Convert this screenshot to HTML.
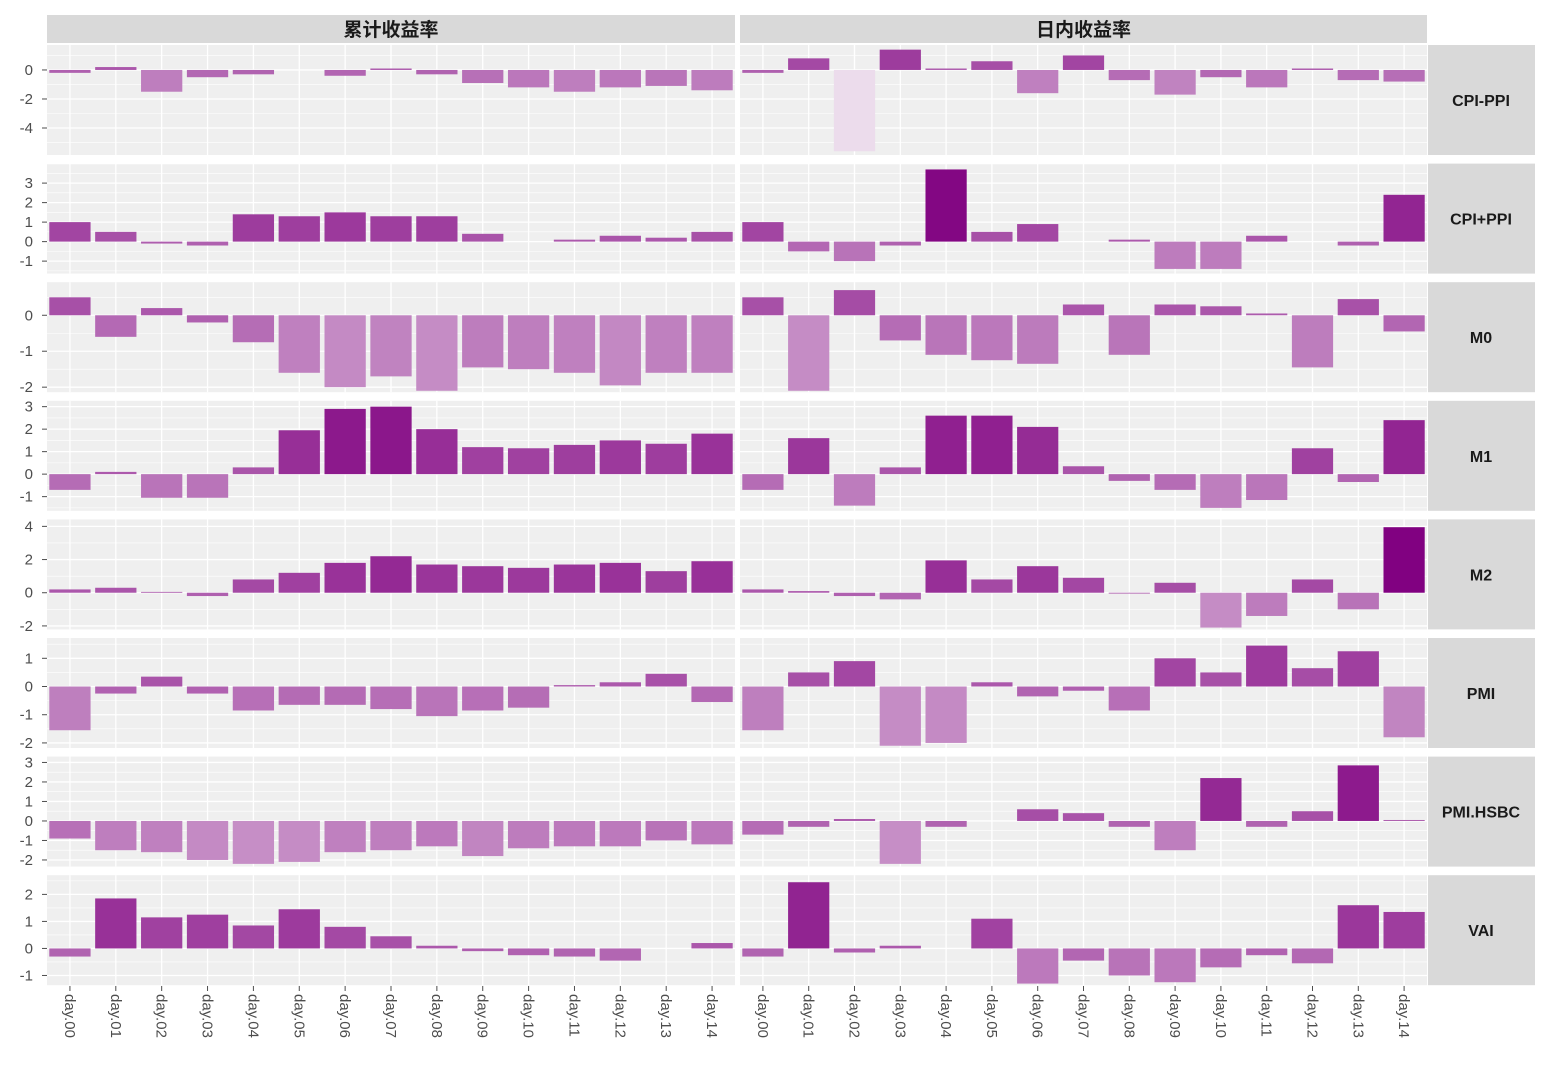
<!DOCTYPE html>
<html><head><meta charset="utf-8"><style>
body{margin:0;background:#fff;font-family:"Liberation Sans","Noto Sans CJK SC",sans-serif;}
svg text{font-family:"Liberation Sans","Noto Sans CJK SC",sans-serif;}
</style></head><body>
<svg id="chart" width="1542" height="1077" xmlns="http://www.w3.org/2000/svg"></svg>
<script>
const categories = ["day.00","day.01","day.02","day.03","day.04","day.05","day.06","day.07","day.08","day.09","day.10","day.11","day.12","day.13","day.14"];
const colFacets = ["累计收益率","日内收益率"];
const rowFacets = ["CPI-PPI","CPI+PPI","M0","M1","M2","PMI","PMI.HSBC","VAI"];
const cumCPIPPI = [-0.2,0.2,-1.5,-0.5,-0.3,0,-0.4,0.1,-0.3,-0.9,-1.2,-1.5,-1.2,-1.1,-1.4];
const dayCPIPPI = [-0.2,0.8,-5.6,1.4,0.1,0.6,-1.6,1.0,-0.7,-1.7,-0.5,-1.2,0.1,-0.7,-0.8];
const cumCPIpPPI = [1.0,0.5,-0.1,-0.2,1.4,1.3,1.5,1.3,1.3,0.4,0,0.1,0.3,0.2,0.5];
const dayCPIpPPI = [1.0,-0.5,-1.0,-0.2,3.7,0.5,0.9,0,0.1,-1.4,-1.4,0.3,0,-0.2,2.4];
const cumM0 = [0.5,-0.6,0.2,-0.2,-0.75,-1.6,-2.0,-1.7,-2.1,-1.45,-1.5,-1.6,-1.95,-1.6,-1.6];
const dayM0 = [0.5,-2.1,0.7,-0.7,-1.1,-1.25,-1.35,0.3,-1.1,0.3,0.25,0.05,-1.45,0.45,-0.45];
const cumM1 = [-0.7,0.1,-1.05,-1.05,0.3,1.95,2.9,3.0,2.0,1.2,1.15,1.3,1.5,1.35,1.8];
const dayM1 = [-0.7,1.6,-1.4,0.3,2.6,2.6,2.1,0.35,-0.3,-0.7,-1.5,-1.15,1.15,-0.35,2.4];
const cumM2 = [0.2,0.3,0.05,-0.2,0.8,1.2,1.8,2.2,1.7,1.6,1.5,1.7,1.8,1.3,1.9];
const dayM2 = [0.2,0.1,-0.2,-0.4,1.95,0.8,1.6,0.9,-0.05,0.6,-2.1,-1.4,0.8,-1.0,3.95];
const cumPMI = [-1.55,-0.25,0.35,-0.25,-0.85,-0.65,-0.65,-0.8,-1.05,-0.85,-0.75,0.05,0.15,0.45,-0.55];
const dayPMI = [-1.55,0.5,0.9,-2.1,-2.0,0.15,-0.35,-0.15,-0.85,1.0,0.5,1.45,0.65,1.25,-1.8];
const cumHSBC = [-0.9,-1.5,-1.6,-2.0,-2.2,-2.1,-1.6,-1.5,-1.3,-1.8,-1.4,-1.3,-1.3,-1.0,-1.2];
const dayHSBC = [-0.7,-0.3,0.1,-2.2,-0.3,0,0.6,0.4,-0.3,-1.5,2.2,-0.3,0.5,2.85,0.05];
const cumVAI = [-0.3,1.85,1.15,1.25,0.85,1.45,0.8,0.45,0.1,-0.1,-0.25,-0.3,-0.45,0,0.2];
const dayVAI = [-0.3,2.45,-0.15,0.1,0,1.1,-1.3,-0.45,-1.0,-1.25,-0.7,-0.25,-0.55,1.6,1.35];
const ticksCPIPPI = [0,-2,-4];
const ticksCPIpPPI = [3,2,1,0,-1];
const ticksM0 = [0,-1,-2];
const ticksM1 = [3,2,1,0,-1];
const ticksM2 = [4,2,0,-2];
const ticksPMI = [1,0,-1,-2];
const ticksHSBC = [3,2,1,0,-1,-2];
const ticksVAI = [2,1,0,-1];
const domCPIPPI = [-5.86,1.72];
const domCPIpPPI = [-1.64,4.0];
const domM0 = [-2.14,0.92];
const domM1 = [-1.63,3.26];
const domM2 = [-2.21,4.42];
const domPMI = [-2.18,1.72];
const domHSBC = [-2.34,3.3];
const domVAI = [-1.36,2.71];

const rows = [
 [cumCPIPPI,dayCPIPPI,ticksCPIPPI,domCPIPPI],
 [cumCPIpPPI,dayCPIpPPI,ticksCPIpPPI,domCPIpPPI],
 [cumM0,dayM0,ticksM0,domM0],
 [cumM1,dayM1,ticksM1,domM1],
 [cumM2,dayM2,ticksM2,domM2],
 [cumPMI,dayPMI,ticksPMI,domPMI],
 [cumHSBC,dayHSBC,ticksHSBC,domHSBC],
 [cumVAI,dayVAI,ticksVAI,domVAI]];

const svg = document.getElementById('chart');
const NS = 'http://www.w3.org/2000/svg';
function mk(tag, attrs, parent){const e=document.createElementNS(NS,tag);for(const k in attrs)e.setAttribute(k,attrs[k]);(parent||svg).appendChild(e);return e;}
const colX = [47,740], colW = [688,687];
const rowY0 = 45, rowStep = 118.6, rowH = 110;
const vMin = -5.6, vMax = 4.0;
function color(v){let t=(v-vMin)/(vMax-vMin);t=Math.max(0,Math.min(1,t));
 const a=[236,220,236],b=[128,0,128];
 return 'rgb('+a.map((c,i)=>Math.round(c+(b[i]-c)*t)).join(',')+')';}

colFacets.forEach((name,c)=>{
 const r=mk('rect',{x:colX[c],y:15,width:colW[c],height:28,fill:'#d9d9d9'});
 
 
 const t=mk('text',{x:colX[c]+colW[c]/2,y:36,'text-anchor':'middle','font-size':'19','font-weight':'bold',fill:'#1a1a1a'});
 t.textContent=name;
 
 
});

rows.forEach((row,ri)=>{
 const y0=rowY0+ri*rowStep;
 const dom=row[3];
 const ys=v=>y0+rowH*(dom[1]-v)/(dom[1]-dom[0]);
 const rs=mk('rect',{x:1428,y:y0,width:107,height:rowH,fill:'#d9d9d9'});
 
 
 const rt=mk('text',{x:1481,y:y0+rowH/2+6,'text-anchor':'middle','font-size':'16','font-weight':'bold',fill:'#1a1a1a'});
 rt.textContent=rowFacets[ri];
 
 
 row[2].forEach(tv=>{
  const yy=ys(tv);
  const tl=mk('text',{x:33,y:yy+5,'text-anchor':'end','font-size':'15',fill:'#4d4d4d'});
  tl.textContent=tv<0?'-'+Math.abs(tv):String(tv);
  
  
  mk('line',{x1:42,x2:47,y1:yy,y2:yy,stroke:'#4d4d4d','stroke-width':1});
 });
 [0,1].forEach(c=>{
  const x0=colX[c],w=colW[c];
  const bg=mk('rect',{x:x0,y:y0,width:w,height:rowH,fill:'#efefef'});
  
  
  const step=row[2].length>1?Math.abs(row[2][0]-row[2][1]):1;
  for(let v=Math.ceil(dom[0]/step*2)*step/2; v<=dom[1]; v+=step/2){
   const yy=ys(v);
   const major=Math.abs(v/step-Math.round(v/step))<1e-6;
   mk('line',{x1:x0,x2:x0+w,y1:yy,y2:yy,stroke:'#fff','stroke-width':major?1.3:0.6});
  }
  const bw=w/categories.length;
  categories.forEach((cat,i)=>{
   const cx=x0+(i+0.5)*bw;
   mk('line',{x1:cx,x2:cx,y1:y0,y2:y0+rowH,stroke:'#fff','stroke-width':1.3});
  });
  row[c].forEach((v,i)=>{
   const cx=x0+(i+0.5)*bw;
   const a=ys(v),b=ys(0);
   const bar=mk('rect',{x:cx-bw*0.45,y:Math.min(a,b),width:bw*0.9,height:v===0?0:Math.max(0.8,Math.abs(a-b)),fill:color(v)});
   
   
  });
 });
});

[0,1].forEach(c=>{
 const bw=colW[c]/categories.length;
 categories.forEach((cat,i)=>{
  const cx=colX[c]+(i+0.5)*bw;
  mk('line',{x1:cx,x2:cx,y1:986,y2:991,stroke:'#4d4d4d','stroke-width':1});
  const t=mk('text',{x:cx-5,y:994,'font-size':'15',fill:'#4d4d4d',transform:'rotate(90 '+(cx-5)+' 994)'});
  t.textContent=cat;
  
  
 });
});
</script>
</body></html>
